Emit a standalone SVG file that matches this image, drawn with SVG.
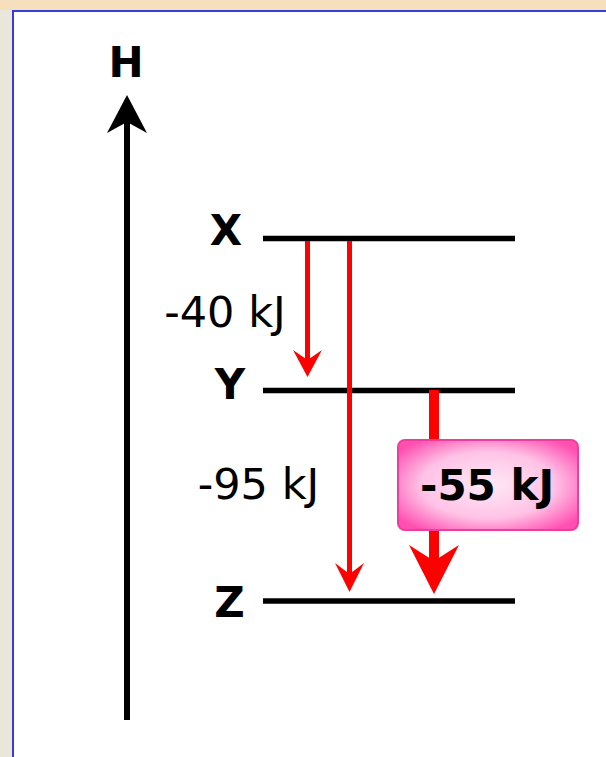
<svg xmlns="http://www.w3.org/2000/svg" width="606" height="757" viewBox="0 0 606 757">
  <style>
    .lbl { font-family: "DejaVu Sans", Verdana, sans-serif; font-weight: bold; font-size: 42px; fill: #000; text-anchor: middle; }
    .val { font-family: "DejaVu Sans", Verdana, sans-serif; font-size: 43px; fill: #000; text-anchor: middle; }
    .level { stroke: #000; stroke-width: 5.5; fill: none; }
    .red { stroke: #ff0000; stroke-width: 5; fill: none; }
    .redfill { fill: #ff0000; }
  </style>
  <defs>
    <radialGradient id="pinkGrad" cx="50%" cy="50%" r="62%">
      <stop offset="0" stop-color="#ffeaf6"/>
      <stop offset="0.6" stop-color="#ffc2e6"/>
      <stop offset="1" stop-color="#ff50b2"/>
    </radialGradient>
  </defs>
  <!-- background -->
  <rect x="0" y="0" width="606" height="757" fill="#e8e7d9"/>
  <rect x="0" y="0" width="606" height="10" fill="#f6dfbc"/>
  <rect x="12" y="10" width="600" height="760" fill="#ffffff"/>
  <rect x="12" y="10" width="594" height="2" fill="#3a3ade"/>
  <rect x="12" y="10" width="2" height="747" fill="#3a3ade"/>

  <g id="axis-H">
    <line x1="127" y1="720" x2="127" y2="120" stroke="#000" stroke-width="6"/>
    <polygon points="127,95 147,133 127,122 107,133" fill="#000"/>
    <text class="lbl" x="126" y="77">H</text>
  </g>

  <g id="level-X">
    <line class="level" x1="263" y1="238.5" x2="515" y2="238.5"/>
    <text class="lbl" x="226" y="245">X</text>
  </g>
  <g id="level-Y">
    <line class="level" x1="263" y1="390.5" x2="515" y2="390.5"/>
    <text class="lbl" x="230" y="399">Y</text>
  </g>
  <g id="level-Z">
    <line class="level" x1="263" y1="601" x2="515" y2="601"/>
    <text class="lbl" x="229.5" y="617">Z</text>
  </g>

  <g id="connectors">
    <g id="arrow-X-Y">
      <line class="red" x1="307.5" y1="241" x2="307.5" y2="362"/>
      <polygon class="redfill" points="307.5,377 322,350 307.5,360 293,350"/>
    </g>
    <g id="arrow-X-Z">
      <line class="red" x1="349.5" y1="241" x2="349.5" y2="576"/>
      <polygon class="redfill" points="349.5,592 364,563 349.5,574 335,563"/>
    </g>
    <g id="arrow-Y-Z">
      <line stroke="#ff0000" stroke-width="10" x1="434" y1="390" x2="434" y2="562"/>
      <polygon class="redfill" points="434,594 459,545 434,561 409,545"/>
    </g>
  </g>

  <g id="label-40">
    <text class="val" x="225" y="327">-40 kJ</text>
  </g>
  <g id="label-95">
    <text class="val" x="258.5" y="499">-95 kJ</text>
  </g>
  <g id="box-55">
    <rect x="398" y="440" width="180" height="90" rx="7" ry="7" fill="url(#pinkGrad)" stroke="#f03c9c" stroke-width="2"/>
    <text class="lbl" x="487" y="500">-55 kJ</text>
  </g>
</svg>
